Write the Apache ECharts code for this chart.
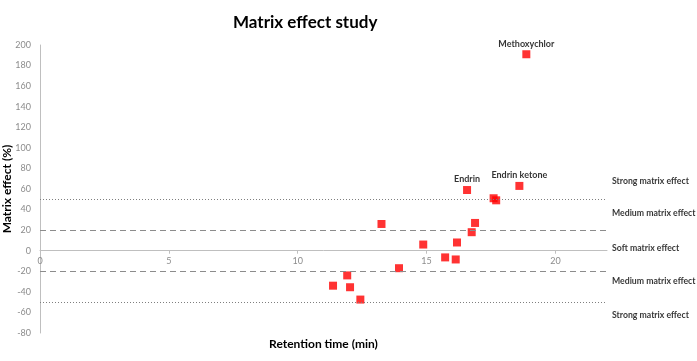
<!DOCTYPE html>
<html><head><meta charset="utf-8">
<script src="https://cdn.jsdelivr.net/npm/echarts@6/dist/echarts.min.js"></script>
<style>html,body{margin:0;padding:0;background:#fff}#c{width:697px;height:361px}</style>
</head><body><div id="c"></div>
<script>
var retentionTimes = [11.37, 11.92, 12.03, 12.43, 13.25, 13.93, 14.87, 15.72, 16.13, 16.18, 16.57, 16.75, 16.88, 17.6, 17.7, 18.6, 18.87];
var matrixEffects = [-34, -24, -35.5, -47.5, 26, -17, 6, -6.5, -8.5, 8, 59, 18, 27, 51, 49, 63, 191];
var pointNames = ['', '', '', '', '', '', '', '', '', '', 'Endrin', '', '', '', '', 'Endrin ketone', 'Methoxychlor'];
var thresholdValues = [50, 20, -20, -50];
var thresholdTypes = ['dotted', 'dashed', 'dashed', 'dotted'];
var zoneLabels = ['Strong matrix effect', 'Medium matrix effect', 'Soft matrix effect', 'Medium matrix effect', 'Strong matrix effect'];
var zoneLabelY = [68, 36, 2, -30, -63];
var xTicks = [0, 5, 10, 15, 20];
var yTicks = [-80, -60, -40, -20, 0, 20, 40, 60, 80, 100, 120, 140, 160, 180, 200];

var FONT = 'Lato, "Open Sans", sans-serif';
var GRID = {left: 40, right: 90, top: 45, bottom: 28};
var H = 361 - GRID.top - GRID.bottom;
var yMin = yTicks[0], yMax = yTicks[yTicks.length - 1];
var zeroOffset = -((0 - yMin) / (yMax - yMin)) * H;

var pts = retentionTimes.map(function (x, i) {
  return {value: [x, matrixEffects[i]], name: pointNames[i],
    label: {show: pointNames[i] !== ''}};
});
var zones = zoneLabels.map(function (t, i) { return {value: [22, zoneLabelY[i]], name: t}; });

var chart = echarts.init(document.getElementById('c'), null, {renderer: 'canvas'});
chart.setOption({
  animation: false,
  textStyle: {fontFamily: FONT},
  title: {text: 'Matrix effect study', left: 228, top: 9,
    textStyle: {fontFamily: FONT, fontSize: 17, fontWeight: 'bold', color: '#000'}},
  grid: {left: GRID.left, right: GRID.right, top: GRID.top, bottom: GRID.bottom,
    containLabel: false, outerBoundsMode: 'none'},
  xAxis: {
    type: 'value', min: xTicks[0], max: 22, interval: 5, position: 'bottom', offset: zeroOffset,
    name: 'Retention time (min)', nameLocation: 'middle', nameGap: 87, nameMoveOverlap: false,
    nameTextStyle: {fontFamily: FONT, fontSize: 12, fontWeight: 'bold', color: '#000'},
    axisLine: {onZero: false, lineStyle: {color: '#BFBFBF', width: 1}},
    axisTick: {show: true, length: 3, lineStyle: {color: '#BFBFBF'}},
    axisLabel: {showMaxLabel: false, color: '#8C8C8C', fontSize: 9, margin: 6,
      formatter: function (v) { return xTicks.indexOf(v) >= 0 ? String(v) : ''; }},
    splitLine: {show: false}
  },
  yAxis: {
    type: 'value', min: yMin, max: yMax, interval: 20,
    name: 'Matrix effect (%)', nameLocation: 'middle', nameGap: 27, nameMoveOverlap: false,
    nameTextStyle: {fontFamily: FONT, fontSize: 12, fontWeight: 'bold', color: '#000'},
    axisLine: {show: true, onZero: false, lineStyle: {color: '#BFBFBF', width: 1}},
    axisTick: {show: false},
    axisLabel: {color: '#8C8C8C', fontSize: 9, margin: 9},
    splitLine: {show: false}
  },
  series: [
    {
      type: 'scatter', symbol: 'rect', symbolSize: 8,
      itemStyle: {color: '#FF0000'},
      data: pts,
      label: {position: 'top', distance: 2, formatter: '{b}',
        fontFamily: FONT, fontSize: 9, fontWeight: 'bold', color: '#000'},
      markLine: {
        silent: true, symbol: ['none', 'none'], label: {show: false},
        data: thresholdValues.map(function (v, i) {
          return {yAxis: v, lineStyle: {type: thresholdTypes[i] === 'dotted' ? [1, 2] : [6, 4],
            color: thresholdTypes[i] === 'dotted' ? '#7F7F7F' : '#8C8C8C', width: 1}};
        })
      },
      z: 3
    },
    {
      type: 'scatter', symbolSize: 0, clip: false, silent: true,
      data: zones,
      label: {show: true, position: 'right', distance: 5, formatter: '{b}',
        fontFamily: FONT, fontSize: 8.7, fontWeight: 'bold', color: '#000'}
    }
  ]
});
</script></body></html>
